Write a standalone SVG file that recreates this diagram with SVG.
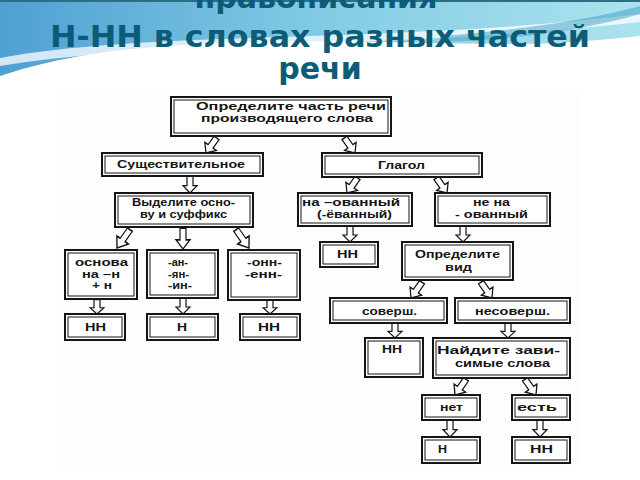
<svg xmlns="http://www.w3.org/2000/svg" xmlns:xlink="http://www.w3.org/1999/xlink" width="640" height="480" viewBox="0 0 640 480">
<defs>
<linearGradient id="sky" x1="0" y1="0" x2="1" y2="0">
<stop offset="0" stop-color="#4f9fd3"/>
<stop offset="0.5" stop-color="#82cbe4"/>
<stop offset="1" stop-color="#abe3ee"/>
</linearGradient>
<path id="arr" d="M-3,-16 L3,-16 L3,-7 L7,-7 L0,0 L-7,-7 L-3,-7 Z"/>
<style>
.title{font-family:"DejaVu Sans",sans-serif;font-weight:bold;font-size:30px;fill:#0c5c78;text-anchor:middle}
.o{fill:#fff;stroke:#151515;stroke-width:2}
.i{fill:none;stroke:#151515;stroke-width:1}
.t{font-family:"Liberation Sans",Arial,sans-serif;font-weight:bold;font-size:11px;fill:#151515}
.a{fill:#fff;stroke:#151515;stroke-width:1.2;stroke-linejoin:miter}
</style>
</defs>
<rect width="640" height="480" fill="#fff"/>
<path d="M0 0 H640 V36 C600 40 560 44 520 44 C420 44 300 38 200 44 C120 48 60 56 0 76 Z" fill="url(#sky)"/>
<path d="M0 58 C150 30 400 44 640 14 L640 22 C400 50 150 40 0 66 Z" fill="#fff" opacity="0.75"/>
<path d="M440 36 C520 30 590 20 640 6 V14 C590 28 520 40 440 42 Z" fill="#3d9cc4" opacity="0.5"/>
<rect x="0" y="0" width="640" height="2" fill="#2a6f86"/>
<text class="title" x="316" y="8">правописания</text>
<text class="title" x="320" y="47" textLength="540" lengthAdjust="spacingAndGlyphs">Н-НН в словах разных частей</text>
<text class="title" x="320" y="79">речи</text>
<rect x="57" y="89" width="524" height="376" fill="#fdfdfd"/>

<g id="connectors">
<use xlink:href="#arr" class="a" transform="translate(206,153) rotate(35) scale(1,1.15)"/>
<use xlink:href="#arr" class="a" transform="translate(355,153) rotate(-35) scale(1,1.15)"/>
<use xlink:href="#arr" class="a" transform="translate(190,193) scale(1,1.05)"/>
<use xlink:href="#arr" class="a" transform="translate(117,248) rotate(35) scale(1,1.4)"/>
<use xlink:href="#arr" class="a" transform="translate(183,249) scale(1,1.3)"/>
<use xlink:href="#arr" class="a" transform="translate(249,248) rotate(-35) scale(1,1.4)"/>
<use xlink:href="#arr" class="a" transform="translate(97,314) scale(1,0.9)"/>
<use xlink:href="#arr" class="a" transform="translate(183,314) scale(1,1)"/>
<use xlink:href="#arr" class="a" transform="translate(270,314) scale(1,0.9)"/>
<use xlink:href="#arr" class="a" transform="translate(347,193) rotate(35) scale(1,1.15)"/>
<use xlink:href="#arr" class="a" transform="translate(447,193) rotate(-35) scale(1,1.15)"/>
<use xlink:href="#arr" class="a" transform="translate(350,242) scale(1,1)"/>
<use xlink:href="#arr" class="a" transform="translate(463,242) scale(1,1)"/>
<use xlink:href="#arr" class="a" transform="translate(411,298) rotate(35) scale(1,1.2)"/>
<use xlink:href="#arr" class="a" transform="translate(492,298) rotate(-35) scale(1,1.2)"/>
<use xlink:href="#arr" class="a" transform="translate(395,338) scale(1,0.95)"/>
<use xlink:href="#arr" class="a" transform="translate(508,338) scale(1,0.95)"/>
<use xlink:href="#arr" class="a" transform="translate(455,395) rotate(35) scale(1,1.2)"/>
<use xlink:href="#arr" class="a" transform="translate(536,395) rotate(-35) scale(1,1.2)"/>
<use xlink:href="#arr" class="a" transform="translate(450,437) scale(1,1.05)"/>
<use xlink:href="#arr" class="a" transform="translate(540,437) scale(1,1.05)"/>
</g>

<g id="n1"><rect class="o" x="171" y="97" width="220" height="39"/><rect class="i" x="174" y="100" width="214" height="33"/>
<text class="t" x="196" y="110" textLength="190" lengthAdjust="spacingAndGlyphs">Определите часть речи</text>
<text class="t" x="201" y="122" textLength="172" lengthAdjust="spacingAndGlyphs">производящего слова</text></g>
<g id="n2"><rect class="o" x="102" y="153" width="161" height="23"/><rect class="i" x="105" y="156" width="155" height="17"/>
<text class="t" x="117" y="168" textLength="128" lengthAdjust="spacingAndGlyphs">Существительное</text></g>
<g id="n3"><rect class="o" x="322" y="153" width="160" height="24"/><rect class="i" x="325" y="156" width="154" height="18"/>
<text class="t" x="378" y="169" textLength="47" lengthAdjust="spacingAndGlyphs">Глагол</text></g>
<g id="n4"><rect class="o" x="115" y="193" width="138" height="34"/><rect class="i" x="118" y="196" width="132" height="28"/>
<text class="t" x="132" y="206" textLength="103" lengthAdjust="spacingAndGlyphs">Выделите осно-</text>
<text class="t" x="140" y="218" textLength="87" lengthAdjust="spacingAndGlyphs">ву и суффикс</text></g>
<g id="n5"><rect class="o" x="298" y="193" width="114" height="33"/><rect class="i" x="301" y="196" width="108" height="27"/>
<text class="t" x="302" y="206" textLength="98" lengthAdjust="spacingAndGlyphs">на –ованный</text>
<text class="t" x="317" y="218" textLength="75" lengthAdjust="spacingAndGlyphs">(-ёванный)</text></g>
<g id="n6"><rect class="o" x="435" y="193" width="115" height="33"/><rect class="i" x="438" y="196" width="109" height="27"/>
<text class="t" x="473" y="206" textLength="37" lengthAdjust="spacingAndGlyphs">не на</text>
<text class="t" x="455" y="218" textLength="73" lengthAdjust="spacingAndGlyphs">- ованный</text></g>
<g id="n7"><rect class="o" x="320" y="242" width="58" height="25"/><rect class="i" x="323" y="245" width="52" height="19"/>
<text class="t" x="337" y="258" textLength="21" lengthAdjust="spacingAndGlyphs">НН</text></g>
<g id="n8"><rect class="o" x="402" y="242" width="111" height="38"/><rect class="i" x="405" y="245" width="105" height="32"/>
<text class="t" x="415" y="258" textLength="85" lengthAdjust="spacingAndGlyphs">Определите</text>
<text class="t" x="445" y="271" textLength="27" lengthAdjust="spacingAndGlyphs">вид</text></g>
<g id="n9"><rect class="o" x="65" y="250" width="72" height="49"/><rect class="i" x="68" y="253" width="66" height="43"/>
<text class="t" x="75" y="266" textLength="53" lengthAdjust="spacingAndGlyphs">основа</text>
<text class="t" x="82" y="278" textLength="38" lengthAdjust="spacingAndGlyphs">на –н</text>
<text class="t" x="92" y="289" textLength="20" lengthAdjust="spacingAndGlyphs">+ н</text></g>
<g id="n10"><rect class="o" x="147" y="250" width="71" height="48"/><rect class="i" x="150" y="253" width="65" height="42"/>
<text class="t" x="168" y="266" textLength="20" lengthAdjust="spacingAndGlyphs">-ан-</text>
<text class="t" x="168" y="278" textLength="21" lengthAdjust="spacingAndGlyphs">-ян-</text>
<text class="t" x="168" y="289" textLength="24" lengthAdjust="spacingAndGlyphs">-ин-</text></g>
<g id="n11"><rect class="o" x="228" y="250" width="72" height="50"/><rect class="i" x="231" y="253" width="66" height="44"/>
<text class="t" x="247" y="266" textLength="35" lengthAdjust="spacingAndGlyphs">-онн-</text>
<text class="t" x="245" y="278" textLength="37" lengthAdjust="spacingAndGlyphs">-енн-</text></g>
<g id="n12"><rect class="o" x="65" y="314" width="60" height="26"/><rect class="i" x="68" y="317" width="54" height="20"/>
<text class="t" x="85" y="331" textLength="21" lengthAdjust="spacingAndGlyphs">НН</text></g>
<g id="n13"><rect class="o" x="147" y="314" width="71" height="26"/><rect class="i" x="150" y="317" width="65" height="20"/>
<text class="t" x="177" y="331" textLength="10" lengthAdjust="spacingAndGlyphs">Н</text></g>
<g id="n14"><rect class="o" x="240" y="314" width="60" height="26"/><rect class="i" x="243" y="317" width="54" height="20"/>
<text class="t" x="258" y="331" textLength="22" lengthAdjust="spacingAndGlyphs">НН</text></g>
<g id="n15"><rect class="o" x="330" y="298" width="117" height="25"/><rect class="i" x="333" y="301" width="111" height="19"/>
<text class="t" x="362" y="315" textLength="55" lengthAdjust="spacingAndGlyphs">соверш.</text></g>
<g id="n16"><rect class="o" x="455" y="298" width="115" height="25"/><rect class="i" x="458" y="301" width="109" height="19"/>
<text class="t" x="475" y="315" textLength="75" lengthAdjust="spacingAndGlyphs">несоверш.</text></g>
<g id="n17"><rect class="o" x="365" y="338" width="58" height="39"/><rect class="i" x="368" y="341" width="52" height="33"/>
<text class="t" x="382" y="353" textLength="20" lengthAdjust="spacingAndGlyphs">НН</text></g>
<g id="n18"><rect class="o" x="433" y="338" width="137" height="40"/><rect class="i" x="436" y="341" width="131" height="34"/>
<text class="t" x="437" y="354" textLength="123" lengthAdjust="spacingAndGlyphs">Найдите зави-</text>
<text class="t" x="455" y="367" textLength="95" lengthAdjust="spacingAndGlyphs">симые слова</text></g>
<g id="n19"><rect class="o" x="422" y="395" width="58" height="25"/><rect class="i" x="425" y="398" width="52" height="19"/>
<text class="t" x="440" y="411" textLength="23" lengthAdjust="spacingAndGlyphs">нет</text></g>
<g id="n20"><rect class="o" x="512" y="395" width="58" height="25"/><rect class="i" x="515" y="398" width="52" height="19"/>
<text class="t" x="517" y="411" textLength="40" lengthAdjust="spacingAndGlyphs">есть</text></g>
<g id="n21"><rect class="o" x="422" y="437" width="58" height="26"/><rect class="i" x="425" y="440" width="52" height="20"/>
<text class="t" x="438" y="453" textLength="9" lengthAdjust="spacingAndGlyphs">Н</text></g>
<g id="n22"><rect class="o" x="512" y="437" width="58" height="26"/><rect class="i" x="515" y="440" width="52" height="20"/>
<text class="t" x="530" y="453" textLength="23" lengthAdjust="spacingAndGlyphs">НН</text></g>
</svg>
